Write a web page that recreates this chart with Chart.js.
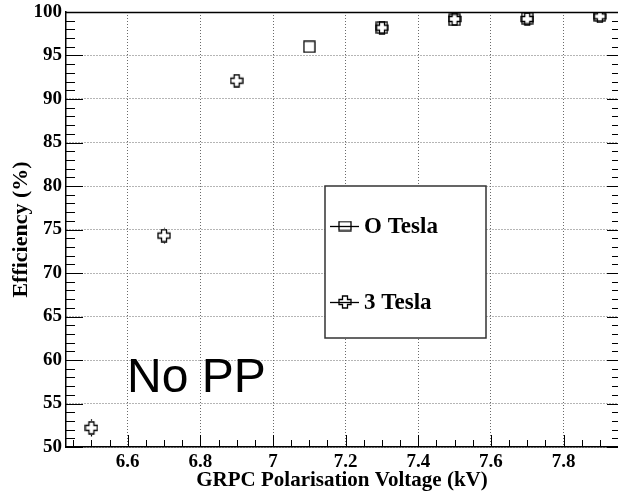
<!DOCTYPE html>
<html>
<head>
<meta charset="utf-8">
<script src="https://cdn.jsdelivr.net/npm/chart.js@4.4.1/dist/chart.umd.min.js"></script>
<style>
  html, body { margin: 0; padding: 0; background: #fff; }
  #wrap { width: 618px; height: 493px; }
</style>
</head>
<body>
<div id="wrap"><canvas id="eff-chart"></canvas></div>
<script>
// efficiency vs polarisation voltage, no magnetic field
const voltages0T = [7.1, 7.3, 7.5, 7.7, 7.9];
const eff0T = [96.0, 98.2, 99.1, 99.3, 99.6];

// efficiency vs polarisation voltage, 3 Tesla
const voltages3T = [6.5, 6.7, 6.9, 7.3, 7.5, 7.7, 7.9];
const eff3T = [52.2, 74.3, 92.1, 98.2, 99.2, 99.2, 99.5];
const err3T = [1.0, 0.9, 0.4, 0.3, 0.2, 0.2, 0.2];

const xTicks = [6.6, 6.8, 7.0, 7.2, 7.4, 7.6, 7.8];
const yTicks = [50, 55, 60, 65, 70, 75, 80, 85, 90, 95, 100];
const xRange = [6.43, 7.95];
const yRange = [50, 100];

const serif = '"Liberation Serif", "DejaVu Serif", serif';

// open markers drawn once onto small canvases
function makeSquare(w, h) {
    const c = document.createElement('canvas');
    c.width = w; c.height = h;
    const g = c.getContext('2d');
    g.strokeStyle = '#000';
    g.lineWidth = 1.3;
    g.strokeRect(1, 1, w - 2, h - 2);
    return c;
}

function makeCross(size) {
    const c = document.createElement('canvas');
    c.width = size; c.height = size;
    const g = c.getContext('2d');
    const m = size / 2, s = size / 2 - 1, a = 2.5;
    g.translate(m, m);
    g.beginPath();
    g.moveTo(-a, -s); g.lineTo(a, -s); g.lineTo(a, -a); g.lineTo(s, -a);
    g.lineTo(s, a); g.lineTo(a, a); g.lineTo(a, s); g.lineTo(-a, s);
    g.lineTo(-a, a); g.lineTo(-s, a); g.lineTo(-s, -a); g.lineTo(-a, -a);
    g.closePath();
    g.strokeStyle = '#000';
    g.lineWidth = 1.3;
    g.stroke();
    return c;
}

const squareImg = makeSquare(13, 13);
const squareKey = makeSquare(14, 11);
const crossImg = makeCross(14);

// ticks on the inside of the frame, major + minor
const frameTicks = {
    id: 'frameTicks',
    afterDatasetsDraw(chart) {
        const { ctx, chartArea: a, scales: { x, y } } = chart;
        ctx.save();
        ctx.strokeStyle = '#000';
        ctx.lineWidth = 1;
        ctx.beginPath();
        for (let v = 50; v <= 100; v += 1) {
            const py = Math.round(y.getPixelForValue(v)) + 0.5;
            const major = v % 5 === 0;
            ctx.moveTo(a.left, py); ctx.lineTo(a.left + (major ? 17 : 9), py);
            ctx.moveTo(a.right, py); ctx.lineTo(a.right - (major ? 11 : 6), py);
        }
        for (let i = 0; ; i++) {
            const v = 6.45 + i * 0.05;
            if (v > xRange[1]) break;
            const px = Math.round(x.getPixelForValue(v)) + 0.5;
            const major = i % 4 === 3;
            ctx.moveTo(px, a.bottom); ctx.lineTo(px, a.bottom - (major ? 12 : 7));
        }
        ctx.stroke();
        // top frame line
        ctx.lineWidth = 1.5;
        ctx.beginPath();
        ctx.moveTo(a.left, a.top + 0.5); ctx.lineTo(a.right, a.top + 0.5);
        ctx.stroke();
        ctx.restore();
    }
};

// vertical error bars, only the part sticking out of the marker
const errorBars = {
    id: 'errorBars',
    afterDatasetsDraw(chart) {
        const { ctx, scales: { x, y } } = chart;
        ctx.save();
        ctx.strokeStyle = '#000';
        ctx.lineWidth = 1.2;
        ctx.beginPath();
        voltages3T.forEach((v, i) => {
            const px = Math.round(x.getPixelForValue(v)) + 0.5;
            const pc = y.getPixelForValue(eff3T[i]);
            const hi = y.getPixelForValue(eff3T[i] + err3T[i]);
            const lo = y.getPixelForValue(eff3T[i] - err3T[i]);
            if (hi < pc - 7) { ctx.moveTo(px, hi); ctx.lineTo(px, pc - 7); }
            if (lo > pc + 7) { ctx.moveTo(px, pc + 7); ctx.lineTo(px, lo); }
        });
        ctx.stroke();
        ctx.restore();
    }
};

// framed legend box and the "No PP" label
const annotations = {
    id: 'annotations',
    afterDraw(chart) {
        const { ctx } = chart;
        ctx.save();
        ctx.fillStyle = '#fff';
        ctx.fillRect(325, 186, 161, 152);
        ctx.strokeStyle = '#333';
        ctx.lineWidth = 1.5;
        ctx.strokeRect(325, 186, 161, 152);

        const entries = [
            { label: 'O Tesla', img: squareKey, y: 226 },
            { label: '3 Tesla', img: crossImg, y: 302 }
        ];
        ctx.font = 'bold 23px ' + serif;
        ctx.textBaseline = 'middle';
        ctx.fillStyle = '#000';
        entries.forEach(e => {
            ctx.drawImage(e.img, 345 - e.img.width / 2, e.y - e.img.height / 2);
            ctx.lineWidth = 1.3;
            ctx.strokeStyle = '#000';
            ctx.beginPath();
            ctx.moveTo(330, e.y + 0.5); ctx.lineTo(359, e.y + 0.5);
            ctx.stroke();
            ctx.fillText(e.label, 364, e.y + 1);
        });

        ctx.font = '48px "Liberation Sans", Arial, sans-serif';
        ctx.textBaseline = 'alphabetic';
        ctx.fillText('No PP', 127, 392);
        ctx.restore();
    }
};

const ctx = document.getElementById('eff-chart').getContext('2d');
new Chart(ctx, {
    type: 'scatter',
    data: {
        datasets: [
            {
                label: 'O Tesla',
                data: voltages0T.map((v, i) => ({ x: v, y: eff0T[i] })),
                pointStyle: squareImg,
                order: 1
            },
            {
                label: '3 Tesla',
                data: voltages3T.map((v, i) => ({ x: v, y: eff3T[i] })),
                pointStyle: crossImg,
                order: 0
            }
        ]
    },
    options: {
        responsive: true,
        maintainAspectRatio: false,
        animation: false,
        events: [],
        layout: { autoPadding: false, padding: { top: 12, right: 0, left: 0, bottom: 0 } },
        plugins: {
            legend: { display: false },
            tooltip: { enabled: false }
        },
        scales: {
            x: {
                type: 'linear',
                min: xRange[0],
                max: xRange[1],
                afterBuildTicks: s => { s.ticks = xTicks.map(v => ({ value: v })); },
                afterFit: s => { s.height = 46; s.paddingLeft = 0; s.paddingRight = 0; },
                ticks: {
                    autoSkip: false,
                    maxRotation: 0,
                    padding: 4,
                    color: '#000',
                    font: { family: serif, size: 19, weight: 'bold' },
                    callback: v => String(v)
                },
                grid: { color: '#6a6a6a', lineWidth: 1, drawTicks: false },
                border: { display: true, color: '#000', width: 1.5, dash: [1, 2] },
                title: {
                    display: true,
                    text: 'GRPC Polarisation Voltage (kV)',
                    color: '#000',
                    font: { family: serif, size: 21, weight: 'bold' },
                    padding: { top: 0, bottom: 0 }
                }
            },
            y: {
                type: 'linear',
                min: yRange[0],
                max: yRange[1],
                afterBuildTicks: s => { s.ticks = yTicks.map(v => ({ value: v })); },
                afterFit: s => { s.width = 66; s.paddingTop = 0; s.paddingBottom = 0; },
                ticks: {
                    padding: 4,
                    color: '#000',
                    font: { family: serif, size: 19, weight: 'bold' }
                },
                grid: { color: '#6a6a6a', lineWidth: 1, drawTicks: false },
                border: { display: true, color: '#000', width: 1.5, dash: [1, 2] },
                title: {
                    display: true,
                    text: 'Efficiency (%)',
                    color: '#000',
                    font: { family: serif, size: 22, weight: 'bold' },
                    padding: { top: 8, bottom: 0 }
                }
            }
        }
    },
    plugins: [frameTicks, errorBars, annotations]
});
</script>
</body>
</html>
